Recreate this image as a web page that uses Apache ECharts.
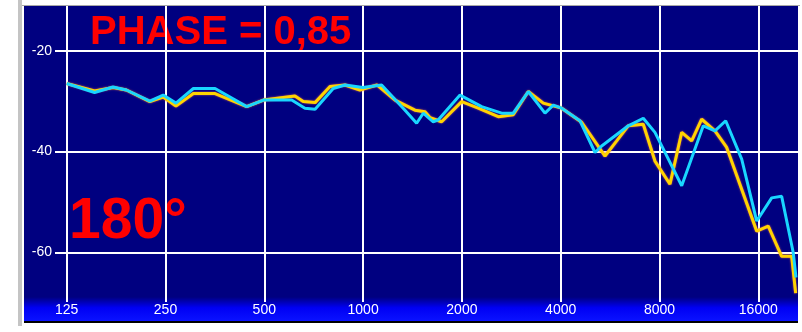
<!DOCTYPE html>
<html>
<head>
<meta charset="utf-8">
<script src="https://cdn.jsdelivr.net/npm/echarts@6/dist/echarts.min.js"></script>
<style>html,body{margin:0;padding:0;background:#fff;}#c{width:802px;height:332px;}</style>
</head>
<body>
<div id="c"></div>
<script>
// Frequency tick labels (Hz)
var tickLabels = ['125','250','500','1000','2000','4000','8000','16000'];
var yTicks = [-60, -40, -20];

// Yellow curve
var yellowFreq = [125,152,173,190,224,246,269,304,354,442,497,620,657,714,793,881,978,1102,1251,1439,1544,1600,1735,1997,2244,2582,2868,3187,3540,4028,4635,5459,5925,6426,7140,7750,8611,9349,10028,10756,11807,12819,15824,17163,18851,20224,20798];
var yellowDb   = [-26.5,-28.0,-27.3,-27.8,-30.1,-29.2,-31.0,-28.5,-28.5,-31.1,-29.8,-29.0,-30.1,-30.3,-27.1,-26.8,-27.8,-26.8,-29.8,-31.8,-32.1,-33.3,-34.1,-30.1,-31.4,-33.1,-32.7,-28.1,-30.4,-31.4,-34.2,-40.9,-37.9,-34.9,-34.6,-41.9,-46.5,-36.2,-37.9,-33.6,-35.9,-39.2,-55.8,-54.8,-60.8,-60.8,-68.1];

// Cyan curve
var cyanFreq = [125,152,173,190,224,246,269,304,354,442,497,606,665,714,811,881,999,1139,1342,1456,1525,1636,1695,1974,2298,2644,2868,3187,3583,3798,4028,4580,5089,5333,6426,7140,7750,9349,10878,11807,12729,14242,15824,17578,18851,20451,20849];
var cyanDb   = [-26.5,-28.3,-27.2,-27.8,-30.0,-28.8,-30.4,-27.5,-27.5,-31.1,-29.8,-29.8,-31.4,-31.6,-27.5,-26.8,-27.3,-26.8,-31.8,-34.4,-32.4,-34.1,-33.7,-28.8,-31.1,-32.4,-32.4,-28.1,-32.4,-30.8,-31.4,-33.9,-40.2,-38.9,-34.9,-33.4,-36.2,-46.8,-34.9,-35.9,-33.9,-41.5,-53.8,-49.2,-48.9,-60.1,-65.0];

var baseFreq = 125;
function oct(f){ return Math.log2(f / baseFreq); }
function pairs(fs, ds){ return fs.map(function(f,i){ return [oct(f), ds[i]]; }); }

var chart = echarts.init(document.getElementById('c'), null, {renderer:'canvas'});
var option = {
  animation: false,
  backgroundColor: '#ffffff',
  grid: { left: 55, right: 4, top: 6, bottom: 35, containLabel: false },
  graphic: [
    { type:'rect', z:-10, shape:{x:18,y:0,width:4,height:326}, style:{fill:'#c4c4c4'} },
    { type:'rect', z:-10, shape:{x:22,y:5,width:778,height:1}, style:{fill:'#a8a8a8'} },
    { type:'rect', z:-10, shape:{x:24,y:6,width:774,height:291}, style:{fill:'#000080'} },
    { type:'rect', z:-10, shape:{x:24,y:297,width:774,height:24}, style:{fill:{type:'linear',x:0,y:0,x2:0,y2:1,colorStops:[{offset:0,color:'#000080'},{offset:0.45,color:'#0000f4'},{offset:1,color:'#0a12ff'}]}} },
    { type:'rect', z:-10, shape:{x:24,y:321,width:774,height:2}, style:{fill:'#000000'} },
    { type:'text', z:-5, x:90, y:33, style:{text:'PHASE = 0,85', fill:'#ff0000', font:'bold 40px "Liberation Sans", Arial, sans-serif', verticalAlign:'middle', align:'left'} },
    { type:'text', z:-5, x:69, y:222, style:{text:'180°', fill:'#ff0000', font:'bold 57px "Liberation Sans", Arial, sans-serif', verticalAlign:'middle', align:'left'} }
  ],
  xAxis: {
    type: 'value',
    min: -0.1184,
    max: 7.402,
    axisLine: { show: false },
    axisTick: { show: true, customValues: [0,1,2,3,4,5,6,7], length: 5, inside: false, lineStyle: { color: '#ffffff', width: 2 } },
    splitLine: { show: true, lineStyle: { color: '#ffffff', width: 2 } },
    axisLabel: {
      customValues: [0,1,2,3,4,5,6,7],
      color: '#ffffff', fontSize: 14, fontFamily: '"Liberation Sans", Arial, sans-serif', margin: 6,
      formatter: function(v){ return tickLabels[Math.round(v)]; }
    }
  },
  yAxis: {
    type: 'value',
    min: -68.87,
    max: -11.13,
    axisLine: { show: false },
    axisTick: { show: false, customValues: yTicks },
    splitLine: { show: true, lineStyle: { color: '#ffffff', width: 2 } },
    axisLabel: {
      customValues: yTicks,
      color: '#ffffff', fontSize: 14, fontFamily: '"Liberation Sans", Arial, sans-serif', margin: 3
    }
  },
  series: [
    { type:'line', data: pairs(yellowFreq, yellowDb), showSymbol:false, symbol:'none', lineStyle:{ color:'#ffd400', width:3, shadowColor:'rgba(255,120,80,0.8)', shadowBlur:2 }, z:2 },
    { type:'line', data: pairs(cyanFreq, cyanDb), showSymbol:false, symbol:'none', lineStyle:{ color:'#19d6ff', width:3 }, z:3 }
  ]
};
chart.setOption(option);
</script>
</body>
</html>
